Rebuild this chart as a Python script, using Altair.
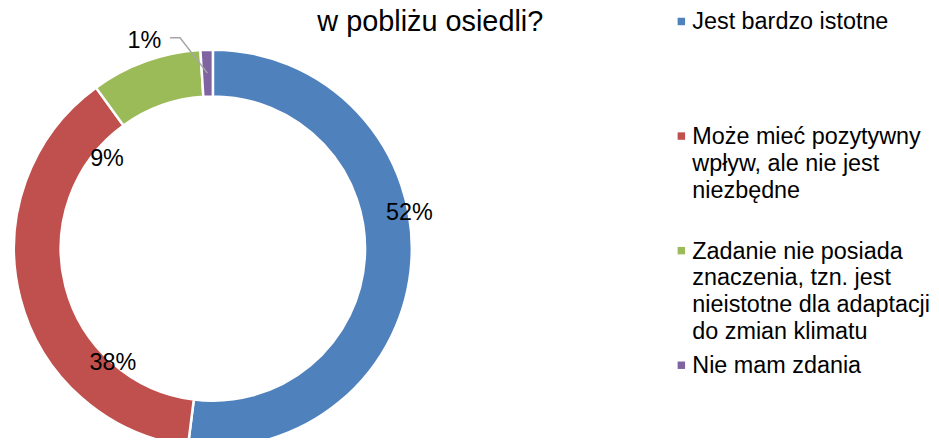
import math
import textwrap

import altair as alt
import pandas as pd

# ---------------- data ----------------
categories = [
    "Jest bardzo istotne",
    "Może mieć pozytywny wpływ, ale nie jest niezbędne",
    "Zadanie nie posiada znaczenia, tzn. jest nieistotne dla adaptacji do zmian klimatu",
    "Nie mam zdania",
]
values = [52, 38, 9, 1]
colors = ["#4F81BD", "#C0504D", "#9BBB59", "#8064A2"]
title_text = ["w pobliżu osiedli?"]

# ---------------- layout / styling ----------------
FONT = "Liberation Sans"
R_OUT, R_IN = 200, 153
# data-label anchors along the ring (in the same units as the values) and radius
label_at = [22.1, 61.5, 86.25, 94.95]
label_r = [201, 152, 140, 221]
# leader line of the smallest slice: two points near its label, then the slice centroid
leader_at = [96.81, 97.54]
leader_r = [216.3, 214.55]

total = sum(values)

df = pd.DataFrame(
    {
        "category": categories,
        "value": values,
        "idx": list(range(len(values))),
        "label": [f"{v}%" for v in values],
        "label_at": label_at,
        "label_r": label_r,
    }
)

# leader line points (converted from polar to the donut's cartesian scales)
small = len(values) - 1
mid = sum(values[:small]) + values[small] / 2
pts = list(zip(leader_at, leader_r)) + [(mid, (R_OUT + R_IN) / 2)]
ldf = pd.DataFrame(
    {
        "x": [r * math.sin(2 * math.pi * p / total) for p, r in pts],
        "y": [r * math.cos(2 * math.pi * p / total) for p, r in pts],
        "o": list(range(len(pts))),
    }
)

leg = pd.DataFrame(
    {
        "category": categories,
        "text": ["\n".join(textwrap.wrap(c, 24)) for c in categories],
    }
)

theta_scale = alt.Scale(domain=[0, total])
color = alt.Color(
    "category:N", scale=alt.Scale(domain=categories, range=colors), legend=None
)

arcs = (
    alt.Chart(df)
    .mark_arc(innerRadius=R_IN, outerRadius=R_OUT, stroke="white", strokeWidth=2.5)
    .encode(
        theta=alt.Theta("value:Q", stack=True, scale=theta_scale),
        color=color,
        order=alt.Order("idx:Q", sort="ascending"),
    )
)

leader = (
    alt.Chart(ldf)
    .mark_line(color="#A6A6A6", strokeWidth=1.5)
    .encode(
        x=alt.X("x:Q", scale=alt.Scale(domain=[-R_OUT, R_OUT], nice=False, zero=False), axis=None),
        y=alt.Y("y:Q", scale=alt.Scale(domain=[-R_OUT, R_OUT], nice=False, zero=False), axis=None),
        order="o:Q",
    )
)

labels = (
    alt.Chart(df)
    .mark_text(fontSize=23.5, font=FONT, color="black", align="center", baseline="middle", dy=1)
    .encode(
        theta=alt.Theta("label_at:Q", stack=False, scale=theta_scale),
        radius=alt.Radius(
            "label_r:Q",
            scale=alt.Scale(type="linear", domain=[0, R_OUT], range=[0, R_OUT], zero=True, nice=False),
        ),
        text="label:N",
    )
)

# chart title (its first line lies above the visible area)
title = (
    alt.Chart(pd.DataFrame({"t": title_text}))
    .mark_text(fontSize=29, font=FONT, color="black", align="left", baseline="alphabetic")
    .encode(x=alt.value(305), y=alt.value(-18.3), text="t:N")
)

donut = alt.layer(arcs, leader, labels, title).properties(width=2 * R_OUT, height=2 * R_OUT)

ypos = alt.Y(
    "category:N",
    sort=categories,
    axis=None,
    scale=alt.Scale(type="point", range=[-28.3, 317.3], padding=0),
)
squares = alt.Chart(leg).mark_square(size=56, opacity=1).encode(
    y=ypos, x=alt.value(13), color=color
)
texts = alt.Chart(leg).mark_text(
    align="left",
    baseline="middle",
    fontSize=23.5,
    font=FONT,
    color="black",
    lineBreak="\n",
    lineHeight=27,
    dy=1,
).encode(y=ypos, x=alt.value(24), text="text:N")
legend = alt.layer(squares, texts).properties(width=240, height=2 * R_OUT)

chart = (
    alt.hconcat(donut, legend, spacing=258, bounds="flush")
    .properties(padding={"left": 1, "top": -1.3, "right": 0, "bottom": -16})
    .configure_view(stroke=None)
)

chart.save("out.html", embed_options={"renderer": "svg", "actions": False})
